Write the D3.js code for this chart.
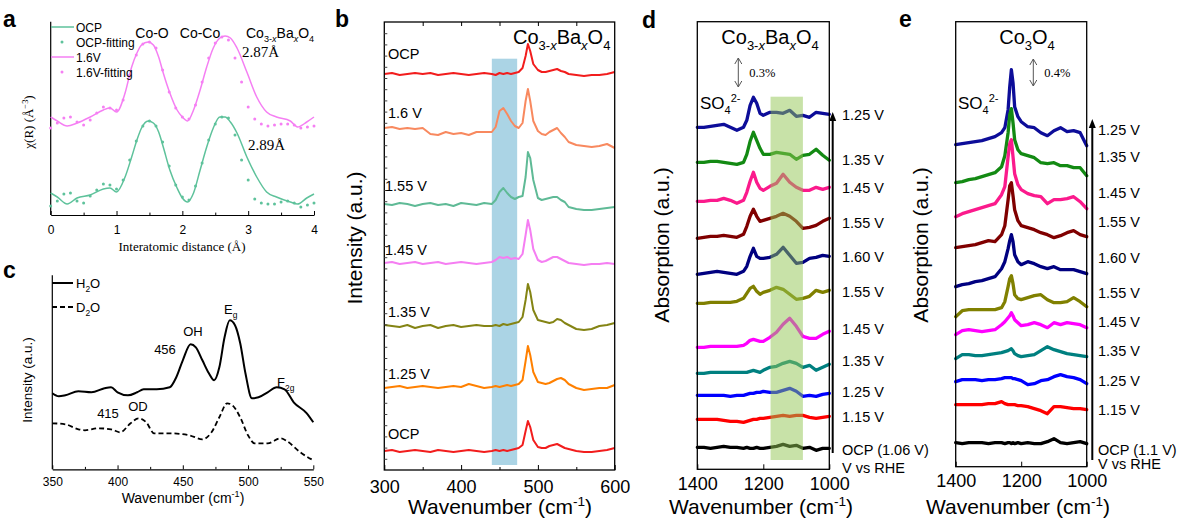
<!DOCTYPE html>
<html>
<head>
<meta charset="utf-8">
<script src="https://cdn.jsdelivr.net/npm/d3@7"></script>
<style>
  body { margin: 0; background: #fff; }
  text { fill: #000; }
</style>
</head>
<body>
<script>
// ---------- data ----------
// a: EXAFS chi(R), arbitrary units
const R_LINE = [0,0.1,0.25,0.4,0.6,0.8,0.9,1.0,1.13,1.23,1.31,1.38,1.48,1.56,1.64,1.71,1.81,1.92,2.0,2.08,2.17,2.27,2.37,2.47,2.57,2.65,2.73,2.83,2.98,3.13,3.28,3.43,3.64,3.75,3.89,4.0];
const A_OCP = [22,18,11,17,20,26,27,23,38,58,75,87,94,92,83,68,45,27,17,13,22,45,68,87,98,98,93,82,58,38,23,18,13,11,17,21];
const A_16V = [98,94,89,92,98,105,107,103,122,148,162,170,173,170,158,142,122,105,98,94,105,125,148,167,177,179,177,167,143,118,103,98,94,88,93,98];
const R_FIT = [0,0.1,0.2,0.3,0.4,0.5,0.6,0.7,0.8,0.9,1.0,1.1,1.2,1.3,1.4,1.5,1.6,1.7,1.8,1.9,2.0,2.1,2.2,2.3,2.4,2.5,2.6,2.7,2.8,2.9,3.0,3.1,3.2,3.3,3.4,3.5,3.6,3.7,3.8,3.9,4.0];
const A_OCP_FIT = [9,14,21,22,14,12,19,25,31,30,26,35,55,74,89,94,89,73,49,30,18,15,29,52,75,91,98,97,80,55,35,16,12,11,11,13,14,12,8,10,12];
const A_16V_FIT = [87,92,97,98,93,90,95,102,108,107,105,115,140,160,171,173,167,145,123,107,98,96,110,133,157,172,178,175,157,133,108,96,91,89,90,91,91,90,87,88,89];

// b: in-situ Raman, Co3-xBaxO4
const X_B = [300,310,320,330,340,350,360,370,380,390,400,410,420,430,440,445,450,455,460,465,470,475,480,484,487,490,494,500,505,510,515,520,525,530,535,540,550,560,570,580,590,600];
const B_NAMES = ['OCP','1.6 V','1.55 V','1.45 V','1.35 V','1.25 V','OCP'];
const B_OFFSET = [396,341,266,207,144,83,19];
const B_SERIES = [
  [0,1,-1,0,1,0,1,-1,0,1, 0,-1,0,1,0, -1,1,0,1,0,1,2,6,18,30, 23,10,4,2,2,3,4,5,3,2, 0,-1,-2,-1,-1,0,2],
  [1,2,0,1,0,1,-5,-6,-3,-5, -4,-6,-3,-3,-3, 2,18,21,15,8,3,1,6,28,40, 28,8,-2,-5,-6,-3,-1,1,-4,-8, -13,-16,-17,-18,-17,-15,-19],
  [0,-1,1,0,-2,0,1,-1,0,-2, 1,0,-1,1,0, 4,12,16,11,7,5,7,8,27,52, 46,24,6,4,5,6,7,7,4,2, -3,-5,-6,-6,-5,-4,-3],
  [0,1,-1,0,1,-1,0,1,-1,0, 1,0,-1,0,1, 3,6,5,6,4,5,4,9,28,43, 33,14,3,1,2,4,6,6,4,2, 0,-1,-2,-1,-1,0,-1],
  [1,0,-1,1,-2,0,1,-2,0,1, -1,0,1,0,0, 1,0,2,1,2,3,4,9,26,42, 34,16,6,5,4,3,4,7,6,3, 1,-3,-4,-3,0,1,3],
  [-1,0,1,-1,0,1,0,-1,0,1, 0,3,1,-1,0, 1,0,1,2,1,2,3,7,26,41, 32,15,5,4,3,4,6,8,9,7, 3,-1,-3,-2,-1,-1,2],
  [0,1,-1,0,1,0,-1,1,0,-1, 0,1,0,-1,0, 1,0,1,0,1,2,3,6,20,30, 24,11,4,3,3,5,6,7,5,3, 2,0,-1,-1,0,1,3]
];
const B_COLORS = ['#f21d1d','#f8895f','#5fba96','#f57ef2','#848414','#ff8000','#f21d1d'];
const BAND_B = [440, 473];

// c: Raman in H2O / D2O
const X_C_H = [350,355,360,370,380,390,395,400,408,415,420,430,440,445,450,456,460,465,470,474,478,482,486,490,494,498,503,508,515,522,528,535,545,550];
const C_H2O = [76,73,74,78,77,81,82,77,74,77,80,80,82,92,109,125,122,109,96,89,102,132,149,144,126,96,71,72,77,82,80,67,56,47];
const X_C_D = [350,360,370,375,385,395,402,410,416,422,428,440,455,465,472,478,484,488,494,500,505,515,525,530,540,550];
const C_D2O = [46,45,40,39,41,40,37,46,51,47,36,36,34,30,37,52,66,64,52,34,26,26,31,28,17,9];

// d: SEIRAS Co3-xBaxO4
const X_D = [1400,1380,1360,1340,1320,1300,1280,1260,1250,1240,1230,1220,1210,1200,1180,1160,1140,1120,1100,1080,1060,1040,1020,1000];
const D_NAMES = ['1.25 V','1.35 V','1.45 V','1.55 V','1.60 V','1.55 V','1.45 V','1.35 V','1.25 V','1.15 V','OCP (1.06 V)'];
const D_OFFSET = [342,307,268,231,195,166,122,96,74,50,22];
const D_SERIES = [
  [0,0,1,2,3,0,-3,0,7,22,30,24,14,12,15,15,14,17,11,12,10,15,14,13],
  [0,0,1,1,0,-1,-2,0,8,21,30,22,14,8,8,10,9,8,3,7,8,13,7,2],
  [0,0,1,1,3,1,-2,1,9,20,29,19,13,11,15,18,27,19,14,11,11,14,12,14],
  [0,1,2,2,3,2,1,4,12,22,29,22,17,18,20,22,25,22,17,10,11,13,17,20],
  [0,1,2,3,2,1,0,3,8,18,26,18,16,16,17,20,27,19,11,12,16,17,19,18],
  [0,0,1,1,1,1,2,5,10,15,17,12,9,11,13,16,14,9,4,5,7,13,11,13],
  [0,0,1,1,1,1,1,2,4,7,8,7,6,6,10,15,23,29,21,11,9,9,13,16],
  [0,0,1,1,1,1,1,1,1,2,3,2,1,3,6,7,10,12,10,6,8,3,6,9],
  [0,0,0,0,0,-1,0,0,1,2,2,3,3,4,3,3,5,7,4,-1,0,-1,1,2],
  [0,0,0,0,-1,-2,-2,-3,-2,-1,0,0,1,1,2,3,4,3,4,4,2,1,2,3],
  [0,0,-1,0,1,0,0,-1,0,-1,-1,0,-1,-1,0,1,3,1,2,-1,0,-3,-1,-1]
];
const BAND_D = [1178, 1080];

// e: SEIRAS Co3O4
const X_E = [1400,1380,1360,1340,1320,1300,1280,1260,1250,1240,1235,1230,1225,1220,1210,1200,1180,1160,1140,1120,1100,1080,1060,1040,1020,1000];
const E_NAMES = ['1.25 V','1.35 V','1.45 V','1.55 V','1.60 V','1.55 V','1.45 V','1.35 V','1.25 V','1.15 V','OCP (1.1 V)'];
const E_OFFSET = [322,284,250,219,180,150,132,108,85,62,24];
const E_SERIES = [
  [0,1,2,3,4,6,8,12,17,35,58,75,62,38,28,23,18,17,12,9,14,17,13,14,12,-1],
  [0,1,3,4,6,8,10,16,27,50,68,74,60,43,33,29,27,25,20,19,20,17,17,15,15,7],
  [0,3,5,7,9,11,13,22,30,60,73,77,60,43,32,27,23,21,20,13,17,17,18,20,15,8],
  [0,1,2,3,5,7,6,13,22,48,62,65,52,38,27,22,20,18,15,13,10,12,15,17,13,11],
  [0,2,3,5,6,8,10,18,25,38,46,52,45,32,25,22,25,23,20,18,20,17,17,17,15,13],
  [0,6,7,7,7,7,7,9,15,30,38,41,33,22,18,17,19,21,22,17,14,14,15,19,15,10],
  [0,4,5,4,3,4,5,10,13,17,19,22,19,15,12,9,10,12,10,7,12,10,12,11,10,7],
  [0,4,4,3,3,4,5,6,7,8,9,10,8,5,3,2,3,4,8,12,9,7,5,4,3,2],
  [0,2,2,2,1,2,2,3,4,4,4,4,3,3,2,1,-3,-2,1,2,5,7,5,4,2,-2],
  [0,0,0,0,0,1,1,3,1,0,0,0,0,0,-1,-1,-2,-4,-6,-9,-2,-2,-3,-4,-4,-5],
  [0,-1,0,0,0,-1,0,0,-1,0,0,-1,0,-1,0,-1,0,-1,-1,1,4,0,-1,0,1,-1]
];
const IR_COLORS = ['#0d0d99','#138a13','#fb1a8c','#800000','#000080','#808000','#ff00ff','#008080','#0000ff','#ff0000','#000000'];

// ---------- helpers ----------
const SANS = '"Liberation Sans", Arial, sans-serif';
const SERIF = '"Liberation Serif", "Times New Roman", serif';

const svg = d3.select('body').append('svg')
    .attr('width', 1185).attr('height', 521)
    .style('font-family', SANS);

// text with sub/superscripts: parts are strings or [text, 'sub'|'sup', italic]
function rich(sel, x, y, parts, size, anchor, rot) {
  const t = sel.append('text').attr('text-anchor', anchor || 'start').style('font-size', size + 'px');
  if (rot) t.attr('transform', `translate(${x},${y}) rotate(-90)`);
  else t.attr('x', x).attr('y', y);
  let shift = 0;
  parts.forEach(p => {
    const [txt, kind, ital] = Array.isArray(p) ? p : [p];
    const target = kind === 'sub' ? size * 0.3 : kind === 'sup' ? -size * 0.4 : 0;
    const ts = t.append('tspan').attr('dy', target - shift).text(txt);
    if (kind) ts.style('font-size', (size * 0.65) + 'px');
    if (ital) ts.style('font-style', 'italic');
    shift = target;
  });
  return t;
}

function styleAxis(g, size) {
  g.selectAll('text').style('font-size', size + 'px').style('font-family', SANS).attr('fill', '#000');
  g.selectAll('line').attr('stroke', '#000');
}

// bottom axis with inward ticks
function bottomTicks(g, scale, y, major, minor, len, pad, size, withDomain) {
  const ax = g.append('g').attr('transform', `translate(0,${y})`)
    .call(d3.axisBottom(scale).tickValues(major).tickSize(-len).tickSizeOuter(0)
      .tickPadding(pad).tickFormat(d3.format('d')));
  if (!withDomain) ax.select('.domain').remove();
  else ax.select('.domain').attr('stroke', '#000').attr('stroke-width', 1.2);
  styleAxis(ax, size);
  if (minor.length) {
    const mn = g.append('g').attr('transform', `translate(0,${y})`)
      .call(d3.axisBottom(scale).tickValues(minor).tickSize(-len * 0.6).tickFormat(''));
    mn.select('.domain').remove();
    mn.selectAll('line').attr('stroke', '#000');
  }
}

function frame(g, x0, x1, y0, y1) {
  g.append('rect').attr('x', x0).attr('y', y0).attr('width', x1 - x0).attr('height', y1 - y0)
    .attr('fill', 'none').attr('stroke', '#000').attr('stroke-width', 1.3);
}

function panelLetter(t, x, y) {
  svg.append('text').attr('x', x).attr('y', y).text(t)
    .style('font-size', '23px').style('font-weight', 'bold');
}

const COBA = ['Co', ['3-', 'sub'], ['x', 'sub', true], 'Ba', ['x', 'sub', true], 'O', ['4', 'sub']];
const WAVENUM = ['Wavenumber (cm', ['-1', 'sup'], ')'];

// ---------- panel a ----------
{
  const g = svg.append('g');
  const x = d3.scaleLinear().domain([0, 4]).range([50.7, 314]);
  const y = d3.scaleLinear().domain([0, 193]).range([215, 22]);

  g.append('line').attr('x1', 50.7).attr('x2', 50.7).attr('y1', 21.7).attr('y2', 215)
    .attr('stroke', '#000').attr('stroke-width', 1.2);
  bottomTicks(g, x, 215, [0, 1, 2, 3, 4], [0.5, 1.5, 2.5, 3.5], 4, 10, 12, true);

  const line = d3.line().x((d, i) => x(R_LINE[i])).y(d => y(d)).curve(d3.curveMonotoneX);
  [[A_OCP, A_OCP_FIT, '#5ec29b'], [A_16V, A_16V_FIT, '#f57ff3']].forEach(([ln, fit, c]) => {
    g.append('path').datum(ln).attr('d', line).attr('fill', 'none').attr('stroke', c).attr('stroke-width', 1.5);
    g.selectAll(null).data(fit).enter().append('circle')
      .attr('cx', (d, i) => x(R_FIT[i])).attr('cy', d => y(d)).attr('r', 1.5).attr('fill', c);
  });

  // legend
  const leg = [['OCP', '#5ec29b', 'line'], ['OCP-fitting', '#5ec29b', 'dot'], ['1.6V', '#f57ff3', 'line'], ['1.6V-fitting', '#f57ff3', 'dot']];
  leg.forEach(([t, c, k], i) => {
    const yy = 27 + i * 15;
    if (k === 'line') g.append('line').attr('x1', 51).attr('x2', 74).attr('y1', yy).attr('y2', yy).attr('stroke', c).attr('stroke-width', 1.5);
    else g.append('circle').attr('cx', 62).attr('cy', yy).attr('r', 1.5).attr('fill', c);
    g.append('text').attr('x', 76).attr('y', yy + 4.5).text(t).style('font-size', '12px');
  });

  g.append('text').attr('x', 152).attr('y', 38).attr('text-anchor', 'middle').text('Co-O').style('font-size', '14px');
  g.append('text').attr('x', 200).attr('y', 38).attr('text-anchor', 'middle').text('Co-Co').style('font-size', '14px');
  rich(g, 246, 38, COBA, 14);
  g.append('text').attr('x', 242).attr('y', 57).text('2.87Å').style('font-size', '15px').style('font-family', SERIF);
  g.append('text').attr('x', 248).attr('y', 150).text('2.89Å').style('font-size', '15px').style('font-family', SERIF);

  g.append('text').attr('x', 182).attr('y', 251).attr('text-anchor', 'middle')
    .text('Interatomic distance (Å)').style('font-size', '13px').style('font-family', SERIF);
  rich(g, 33, 122, ['χ(R) (Å', ['−3', 'sup'], ')'], 13, 'middle', true).style('font-family', SERIF);
  panelLetter('a', 3, 27);
}

// ---------- panel c ----------
{
  const g = svg.append('g');
  const x = d3.scaleLinear().domain([350, 550]).range([52.3, 313.3]);
  const y = d3.scaleLinear().domain([0, 194]).range([469.3, 275.3]);

  g.append('line').attr('x1', 52.3).attr('x2', 52.3).attr('y1', 275.3).attr('y2', 469.3)
    .attr('stroke', '#000').attr('stroke-width', 1.2);
  bottomTicks(g, x, 469.3, [350, 400, 450, 500, 550], [375, 425, 475, 525], 4, 8, 12, true);

  const lineH = d3.line().x((d, i) => x(X_C_H[i])).y(d => y(d)).curve(d3.curveMonotoneX);
  const lineD = d3.line().x((d, i) => x(X_C_D[i])).y(d => y(d)).curve(d3.curveMonotoneX);
  g.append('path').datum(C_H2O).attr('d', lineH).attr('fill', 'none').attr('stroke', '#000').attr('stroke-width', 2);
  g.append('path').datum(C_D2O).attr('d', lineD).attr('fill', 'none').attr('stroke', '#000').attr('stroke-width', 1.8)
    .attr('stroke-dasharray', '5,3');

  g.append('line').attr('x1', 52).attr('x2', 73).attr('y1', 283).attr('y2', 283).attr('stroke', '#000').attr('stroke-width', 2);
  g.append('line').attr('x1', 52).attr('x2', 73).attr('y1', 307).attr('y2', 307).attr('stroke', '#000').attr('stroke-width', 1.8).attr('stroke-dasharray', '5,3');
  rich(g, 76, 288, ['H', ['2', 'sub'], 'O'], 13);
  rich(g, 76, 312, ['D', ['2', 'sub'], 'O'], 13);

  g.append('text').attr('x', 193).attr('y', 336).attr('text-anchor', 'middle').text('OH').style('font-size', '13px');
  g.append('text').attr('x', 165).attr('y', 354).attr('text-anchor', 'middle').text('456').style('font-size', '13px');
  rich(g, 224, 314, ['E', ['g', 'sub']], 13);
  rich(g, 277, 387, ['F', ['2g', 'sub']], 13);
  g.append('text').attr('x', 108).attr('y', 418).attr('text-anchor', 'middle').text('415').style('font-size', '13px');
  g.append('text').attr('x', 138).attr('y', 411).attr('text-anchor', 'middle').text('OD').style('font-size', '13px');

  rich(g, 183, 503, WAVENUM, 14, 'middle');
  g.append('text').attr('transform', 'translate(32,380) rotate(-90)').attr('text-anchor', 'middle')
    .text('Intensity (a.u.)').style('font-size', '13.5px');
  panelLetter('c', 3, 278);
}

// ---------- panel b ----------
{
  const g = svg.append('g');
  const x = d3.scaleLinear().domain([300, 600]).range([384.3, 614.7]);
  const y = d3.scaleLinear().domain([0, 448]).range([470, 22]);

  g.append('rect').attr('x', x(BAND_B[0])).attr('width', x(BAND_B[1]) - x(BAND_B[0]))
    .attr('y', 58.7).attr('height', 465 - 58.7).attr('fill', '#abd4e5');

  const line = d3.line().x((d, i) => x(X_B[i])).y(d => y(d));
  B_SERIES.forEach((s, k) => {
    g.append('path').datum(s.map(v => v + B_OFFSET[k])).attr('d', line)
      .attr('fill', 'none').attr('stroke', B_COLORS[k]).attr('stroke-width', 2).attr('stroke-linejoin', 'round');
  });

  frame(g, 384.3, 614.7, 22, 470);
  bottomTicks(g, x, 470, [300, 400, 500, 600], [350, 450, 550], 5, 10, 18, false);
  const top = g.append('g').attr('transform', 'translate(0,22)')
    .call(d3.axisTop(x).tickValues([350, 400, 450, 500, 550]).tickSize(-4).tickFormat(''));
  top.select('.domain').remove();
  top.selectAll('line').attr('stroke', '#000');
  const yt = d3.scaleLinear().domain([0, 40]).range([470, 22]);
  const left = g.append('g').attr('transform', 'translate(384.3,0)')
    .call(d3.axisLeft(yt).tickValues(d3.range(1, 40)).tickSize(-3).tickFormat(''));
  left.select('.domain').remove();
  left.selectAll('line').attr('stroke', '#444');

  const labelY = [59, 118, 191, 255, 317, 379, 439];
  B_NAMES.forEach((n, k) => {
    g.append('text').attr('x', k === 2 || k === 3 ? 385 : 388).attr('y', labelY[k]).text(n).style('font-size', '14.5px');
  });
  rich(g, 513, 44, COBA, 20);
  rich(g, 500, 514, WAVENUM, 21, 'middle');
  g.append('text').attr('transform', 'translate(362,238) rotate(-90)').attr('text-anchor', 'middle')
    .text('Intensity (a.u.)').style('font-size', '21px');
  panelLetter('b', 335, 27);
}

// ---------- panels d and e ----------
function irPanel(o) {
  const g = svg.append('g');
  const x = d3.scaleLinear().domain([1400, 1000]).range([o.x0, o.x1]);
  const y = d3.scaleLinear().domain([0, o.yb - o.yt]).range([o.yb, o.yt]);
  const line = d3.line().x((d, i) => x(o.xs[i])).y(d => y(d));
  o.series.forEach((s, k) => {
    g.append('path').datum(s.map(v => v + o.offsets[k])).attr('d', line)
      .attr('fill', 'none').attr('stroke', IR_COLORS[k]).attr('stroke-width', 3.3)
      .attr('stroke-linejoin', 'round').attr('stroke-linecap', 'round');
  });
  if (o.band) {
    g.append('rect').attr('x', x(o.band[0])).attr('width', x(o.band[1]) - x(o.band[0]))
      .attr('y', 96.7).attr('height', 460 - 96.7).attr('fill', '#91c551').attr('opacity', 0.5);
  }
  frame(g, o.x0, o.x1, o.yt, o.yb);
  bottomTicks(g, x, o.yb, [1400, 1200, 1000], [], 5, o.pad, 18, false);

  // potential arrow
  g.append('line').attr('x1', o.ax).attr('x2', o.ax).attr('y1', o.a0 + 7).attr('y2', o.a1)
    .attr('stroke', '#000').attr('stroke-width', 2);
  g.append('path').attr('d', `M${o.ax},${o.a0} l-3.5,9 l7,0 z`).attr('fill', '#000');
  o.names.forEach((n, k) => {
    g.append('text').attr('x', o.lx).attr('y', o.labelY[k] + 5).text(n).style('font-size', '14.5px');
  });
  g.append('text').attr('x', o.lx).attr('y', o.rheY).text('V vs RHE').style('font-size', '14.5px');

  // scale bar
  const sx = o.sx, s0 = o.s0, s1 = o.s1;
  g.append('line').attr('x1', sx).attr('x2', sx).attr('y1', s0).attr('y2', s1).attr('stroke', '#555').attr('stroke-width', 1);
  g.append('path').attr('d', `M${sx - 3.5},${s0 + 6} L${sx},${s0} L${sx + 3.5},${s0 + 6} M${sx - 3.5},${s1 - 6} L${sx},${s1} L${sx + 3.5},${s1 - 6}`)
    .attr('fill', 'none').attr('stroke', '#555').attr('stroke-width', 1);
  g.append('text').attr('x', sx + 11).attr('y', (s0 + s1) / 2 + 4).text(o.pct)
    .style('font-size', '12.5px').style('font-family', SERIF).attr('fill', '#333');

  rich(g, o.sox, 109, ['SO', ['4', 'sub'], ['2-', 'sup']], 17);
  rich(g, o.tx, 44, o.title, 20, 'middle');
  rich(g, o.xlx, 514, WAVENUM, 21, 'middle');
  g.append('text').attr('transform', `translate(${o.ylx},245) rotate(-90)`).attr('text-anchor', 'middle')
    .text('Absorption (a.u.)').style('font-size', '21px');
}

irPanel({
  x0: 697.3, x1: 829.3, yt: 21.7, yb: 469.3, pad: 8, xs: X_D, series: D_SERIES, offsets: D_OFFSET,
  band: BAND_D, names: D_NAMES, labelY: [115, 160, 188, 223, 257, 292, 329, 361, 392, 417, 450], rheY: 473,
  ax: 832.7, a0: 112, a1: 453, lx: 842, sx: 738.3, s0: 58, s1: 87, pct: '0.3%', sox: 700,
  tx: 770, title: COBA, xlx: 761, ylx: 669
});
irPanel({
  x0: 955.7, x1: 1086.7, yt: 21.7, yb: 466.7, pad: 7.5, xs: X_E, series: E_SERIES, offsets: E_OFFSET,
  band: null, names: E_NAMES, labelY: [130, 157, 193, 222, 258, 293, 322, 351, 381, 410, 450], rheY: 469,
  ax: 1092.3, a0: 119, a1: 460, lx: 1098, sx: 1033.3, s0: 59, s1: 86, pct: '0.4%', sox: 958,
  tx: 1027, title: ['Co', ['3', 'sub'], 'O', ['4', 'sub']], xlx: 1018, ylx: 928
});
panelLetter('d', 642, 28);
panelLetter('e', 899, 27);
</script>
</body>
</html>
